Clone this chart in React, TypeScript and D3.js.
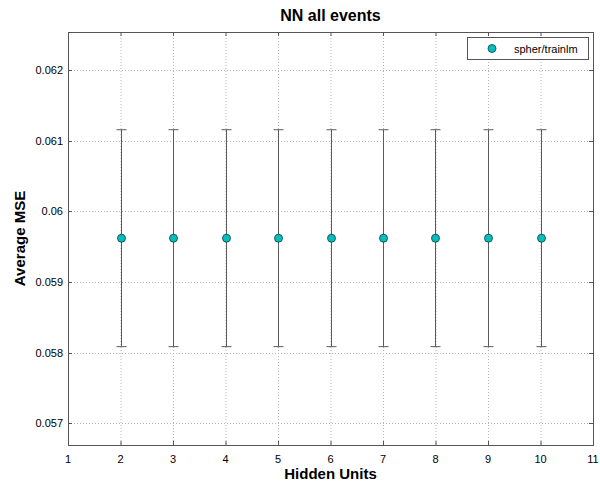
import * as d3 from 'd3'

const W = 600
const H = 488
const M = { top: 32, right: 7, bottom: 43, left: 68 }

const TITLE = 'NN all events'
const X_LABEL = 'Hidden Units'
const Y_LABEL = 'Average MSE'
const SERIES_NAME = 'spher/trainlm'

const hiddenUnits = [2, 3, 4, 5, 6, 7, 8, 9, 10]
const meanMse = [0.05962, 0.05962, 0.05962, 0.05962, 0.05962, 0.05962, 0.05962, 0.05962, 0.05962]
const errMse = [0.001535, 0.001535, 0.001535, 0.001535, 0.001535, 0.001535, 0.001535, 0.001535, 0.001535]

const xTicks = [1, 2, 3, 4, 5, 6, 7, 8, 9, 10, 11]
const yTicks = [0.057, 0.058, 0.059, 0.06, 0.061, 0.062]

const FONT = 'Liberation Sans, Arial, Helvetica, sans-serif'
const GRID = '#b4b4b4'
const AXIS = '#555'
const MARK = '#00bfbf'

export default function App() {
  const innerW = W - M.left - M.right
  const innerH = H - M.top - M.bottom

  const x = d3.scaleLinear().domain([1, 11]).range([M.left, M.left + innerW])
  const y = d3.scaleLinear().domain([0.056693, 0.062538]).range([M.top + innerH, M.top])

  const x0 = M.left
  const x1 = M.left + innerW
  const y0 = M.top + innerH
  const y1 = M.top
  const tk = 4

  return (
    <svg width={W} height={H} style={{ position: 'absolute', left: 0, top: 0, background: '#fff' }}>
      <rect width={W} height={H} fill="#fff" />

      {/* grid */}
      {xTicks.slice(1, -1).map(t => (
        <line key={'gx' + t} x1={x(t) + 0.5} x2={x(t) + 0.5} y1={y1} y2={y0}
          stroke={GRID} strokeWidth={1} strokeDasharray="1,2" />
      ))}
      {yTicks.map(t => (
        <line key={'gy' + t} x1={x0} x2={x1} y1={Math.round(y(t)) + 0.5} y2={Math.round(y(t)) + 0.5}
          stroke={GRID} strokeWidth={1} strokeDasharray="1,2" />
      ))}

      {/* ticks (inward, mirrored) */}
      {xTicks.map(t => (
        <g key={'tx' + t}>
          <line x1={x(t) + 0.5} x2={x(t) + 0.5} y1={y0} y2={y0 - tk} stroke={AXIS} />
          <line x1={x(t) + 0.5} x2={x(t) + 0.5} y1={y1} y2={y1 + tk} stroke={AXIS} />
          <text x={x(t)} y={y0 + 18} textAnchor="middle" fontSize={11} fontFamily={FONT} fill="#000">{t}</text>
        </g>
      ))}
      {yTicks.map(t => (
        <g key={'ty' + t}>
          <line x1={x0} x2={x0 + tk} y1={Math.round(y(t)) + 0.5} y2={Math.round(y(t)) + 0.5} stroke={AXIS} />
          <line x1={x1} x2={x1 - tk} y1={Math.round(y(t)) + 0.5} y2={Math.round(y(t)) + 0.5} stroke={AXIS} />
          <text x={x0 - 5} y={y(t) + 4} textAnchor="end" fontSize={11} fontFamily={FONT} fill="#000">{d3.format('')(t)}</text>
        </g>
      ))}

      {/* box */}
      <rect x={x0 + 0.5} y={y1 + 0.5} width={innerW} height={innerH} fill="none" stroke={AXIS} strokeWidth={1} />

      {/* error bars */}
      {hiddenUnits.map((u, i) => {
        const cx = Math.round(x(u)) + 0.5
        const top = y(meanMse[i] + errMse[i])
        const bot = y(meanMse[i] - errMse[i])
        return (
          <g key={'e' + u} stroke="#5a5a5a" strokeWidth={1}>
            <line x1={cx} x2={cx} y1={top} y2={bot} />
            <line x1={cx - 5} x2={cx + 5} y1={top} y2={top} />
            <line x1={cx - 5} x2={cx + 5} y1={bot} y2={bot} />
          </g>
        )
      })}

      {/* points */}
      {hiddenUnits.map((u, i) => (
        <circle key={'p' + u} cx={Math.round(x(u)) + 0.5} cy={y(meanMse[i])} r={4}
          fill={MARK} stroke="#1a3a3a" strokeWidth={0.8} />
      ))}

      {/* legend */}
      <rect x={467.5} y={37.5} width={121} height={22} fill="#fff" stroke={AXIS} strokeWidth={1} />
      <circle cx={492} cy={48.5} r={4} fill={MARK} stroke="#1a3a3a" strokeWidth={0.8} />
      <text x={514} y={52.5} fontSize={11} fontFamily={FONT} fill="#000">{SERIES_NAME}</text>

      {/* labels */}
      <text x={(x0 + x1) / 2} y={21} textAnchor="middle" fontSize={16} fontWeight="bold" fontFamily={FONT} fill="#000">{TITLE}</text>
      <text x={(x0 + x1) / 2} y={479} textAnchor="middle" fontSize={15} fontWeight="bold" fontFamily={FONT} fill="#000">{X_LABEL}</text>
      <text transform={`translate(25,${(y0 + y1) / 2}) rotate(-90)`} textAnchor="middle" fontSize={15} fontWeight="bold" fontFamily={FONT} fill="#000">{Y_LABEL}</text>
    </svg>
  )
}
